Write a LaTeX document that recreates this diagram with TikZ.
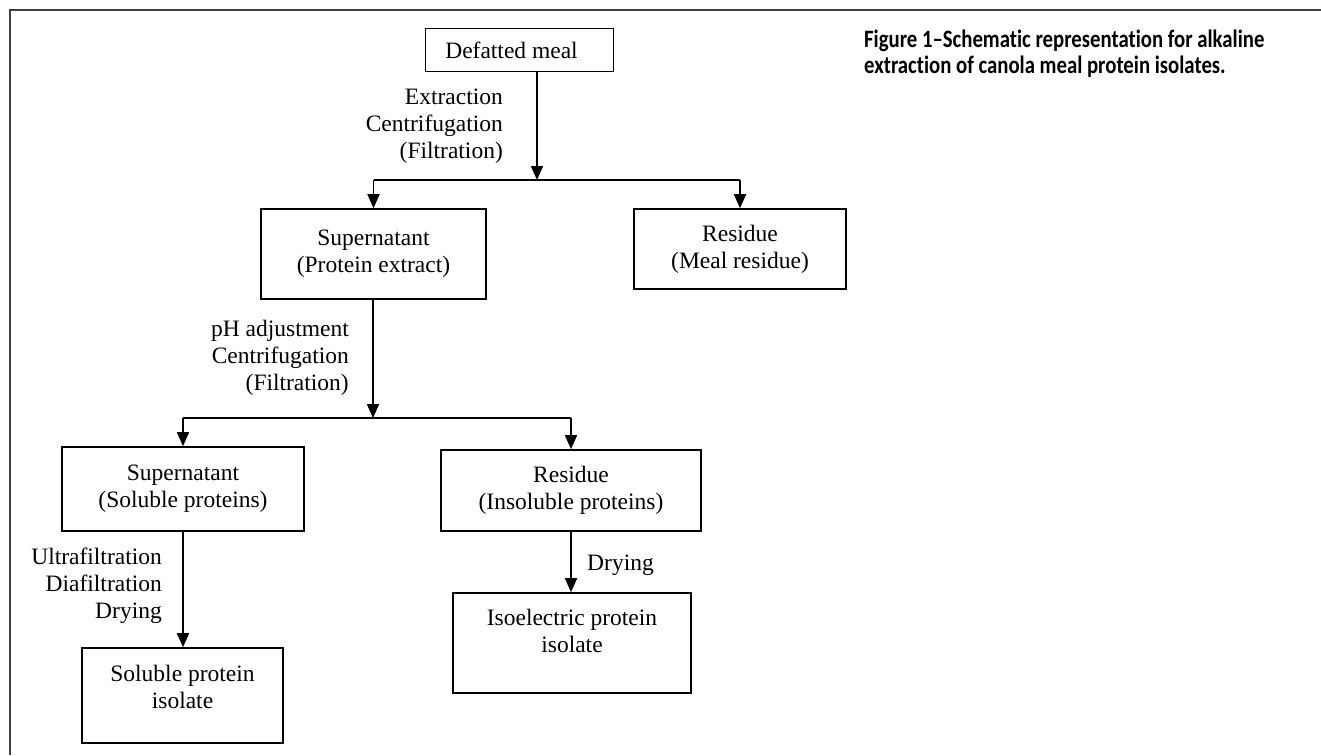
\documentclass[tikz,border=0pt]{standalone}
\usepackage{fontspec}
\setmainfont{Liberation Serif}
\newfontfamily\capfont[FakeStretch=0.83,Ligatures=NoCommon]{Carlito}
\usetikzlibrary{arrows.meta}
\begin{document}
\begin{tikzpicture}[x=1pt,y=-1pt,
  box/.style={draw, line width=1.6pt, inner sep=0pt, align=center, font=\fontsize{23.5}{27}\selectfont},
  lbl/.style={inner sep=0pt, font=\fontsize{23.5}{27}\selectfont},
  flow/.style={line width=1.6pt},
  arr/.style={flow, -{Triangle[width=12pt,length=14pt]}},
]
\useasboundingbox (0,0) rectangle (1321,755);
\draw[line width=1.5pt, draw=black!75] (1321,10) -- (10,10) -- (10,755);

% boxes
\node[box, minimum width=188pt, minimum height=43pt] (dm) at (519.5,50) {};
\node[lbl, anchor=base] (dmt) at (511.5,58) {Defatted meal};
\node[box, minimum width=225pt, minimum height=90pt] (sup1) at (373.5,254) {Supernatant\\(Protein extract)};
\node[box, minimum width=212pt, minimum height=80pt] (res1) at (740,249) {Residue\\(Meal residue)};
\node[box, minimum width=242pt, minimum height=84pt] (sup2) at (183,489) {Supernatant\\(Soluble proteins)};
\node[box, minimum width=260pt, minimum height=81pt] (res2) at (571,490.5) {Residue\\(Insoluble proteins)};
\node[box, minimum width=201pt, minimum height=95pt] (spi) at (182.5,695.5) {};
\node[lbl, align=center, anchor=base] (spit) at (182.5,708) {Soluble protein\\isolate};
\node[box, minimum width=238pt, minimum height=100pt] (iso) at (572,643) {};
\node[lbl, align=center, anchor=base] (isot) at (572,652) {Isoelectric protein\\isolate};

% junctions
\coordinate (j1) at (537,180);
\coordinate (j2) at (373,418);

% connectors
\draw[arr] (dm.south -| j1) -- (j1);
\draw[flow] (j1 -| sup1.north) -- (j1 -| res1.north);
\draw[arr] (j1 -| sup1.north) -- (sup1.north);
\draw[arr] (j1 -| res1.north) -- (res1.north);

\draw[arr] (sup1.south -| j2) -- (j2);
\draw[flow] (j2 -| sup2.north) -- (j2 -| res2.north);
\draw[arr] (j2 -| sup2.north) -- (sup2.north);
\draw[arr] (j2 -| res2.north) -- (res2.north);

\draw[arr] (sup2.south) -- (sup2.south |- spi.north);
\draw[arr] (res2.south) -- (res2.south |- iso.north);

% labels (base anchor = last line baseline)
\node[lbl, align=right, anchor=base east] (l1) at (503,158) {Extraction\\Centrifugation\\(Filtration)};
\node[lbl, align=right, anchor=base east] (l2) at (349,390) {pH adjustment\\Centrifugation\\(Filtration)};
\node[lbl, align=right, anchor=base east] (l3) at (162,618) {Ultrafiltration\\Diafiltration\\Drying};
\node[lbl, anchor=base west] (l4) at (587,570) {Drying};

% caption
\node[inner sep=0pt, align=left, anchor=base west, font=\capfont\bfseries\fontsize{25}{26}\selectfont] (cap) at (864,73)
  {Figure 1–Schematic representation for alkaline\\extraction of canola meal protein isolates.};
\end{tikzpicture}
\end{document}
